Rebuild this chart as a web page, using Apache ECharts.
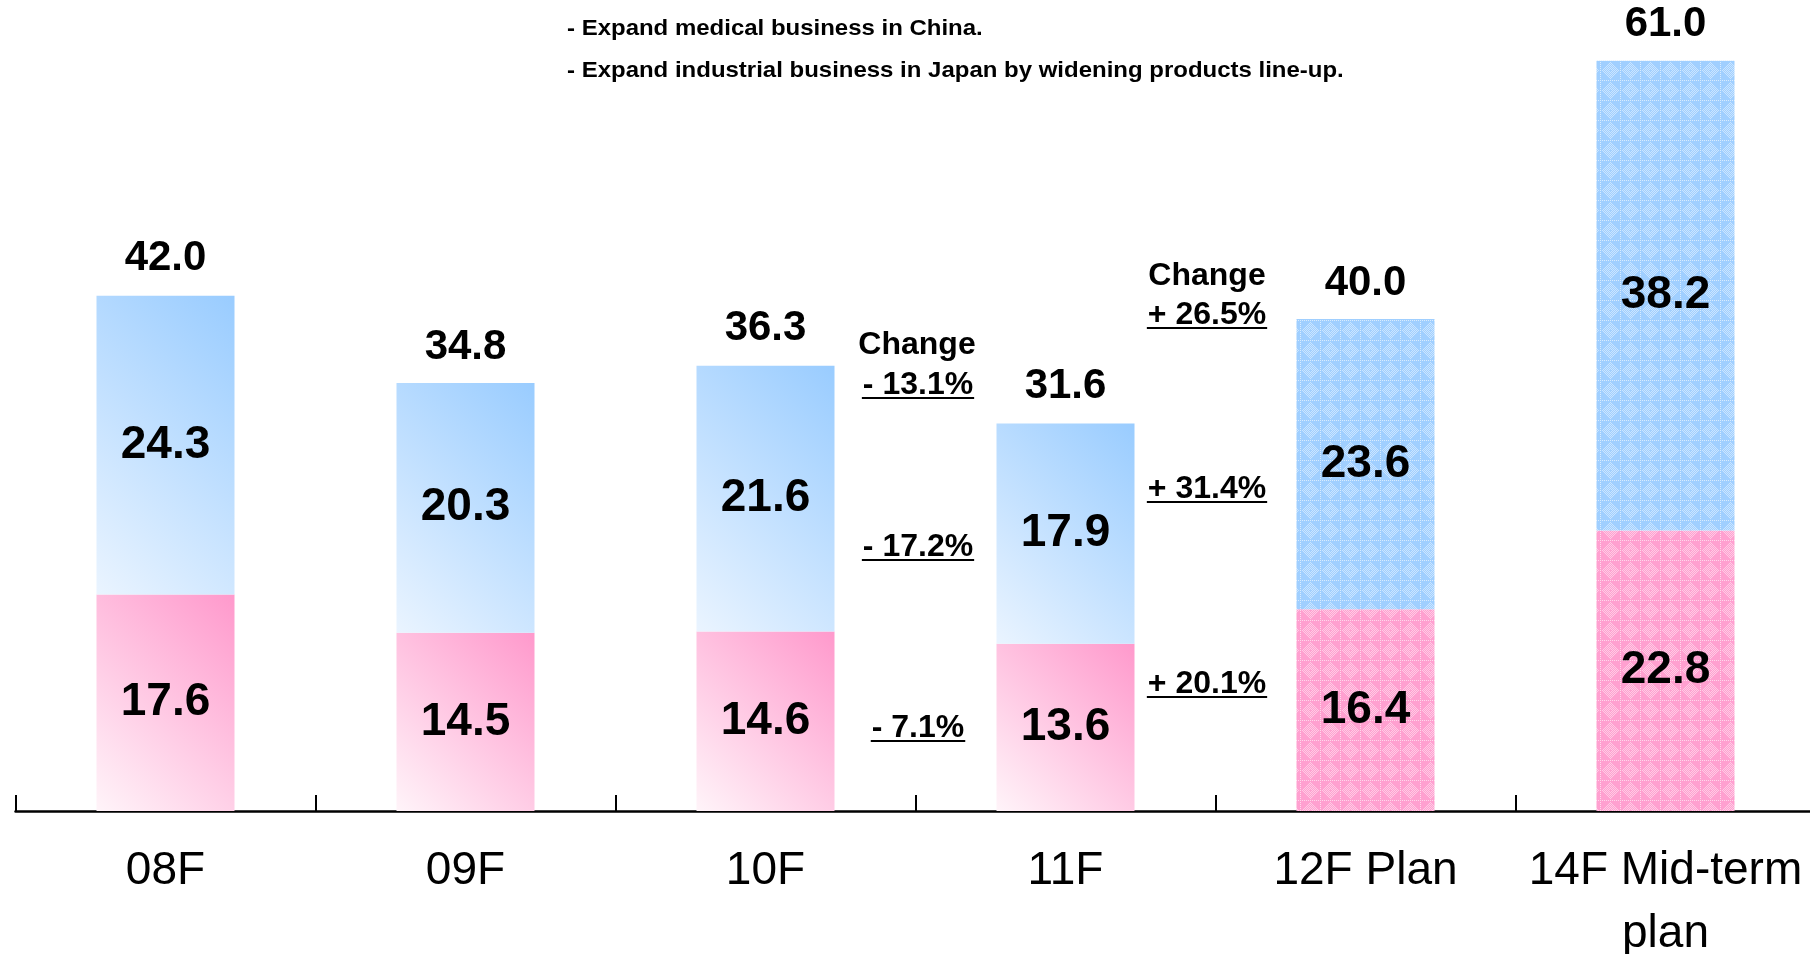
<!DOCTYPE html>
<html>
<head>
<meta charset="utf-8">
<script src="https://cdn.jsdelivr.net/npm/echarts@6/dist/echarts.min.js"></script>
<style>
html,body{margin:0;padding:0;background:#fff;}
#chart{width:1810px;height:954px;}
</style>
</head>
<body>
<div id="chart"></div>
<script>
// ---- data ----
const categories = ['08F', '09F', '10F', '11F', '12F Plan', '14F Mid-term\nplan'];
const lowerValues = [17.6, 14.5, 14.6, 13.6, 16.4, 22.8];   // pink segment
const upperValues = [24.3, 20.3, 21.6, 17.9, 23.6, 38.2];   // blue segment
const totals = [42.0, 34.8, 36.3, 31.6, 40.0, 61.0];
const planFlags = [false, false, false, false, true, true];
const notesLines = ['- Expand medical business in China.', '- Expand industrial business in Japan by widening products line-up.'];
const changeLeft = ['- 13.1%', '- 17.2%', '- 7.1%'];
const changeRight = ['+ 26.5%', '+ 31.4%', '+ 20.1%'];
const changeTitle = 'Change';

// ---- layout / style ----
const FONT = "'Liberation Sans', Arial, sans-serif";
const yMax = 65;
const gridTop = 11.5, gridBottom = 143;
const pxPerUnit = (954 - gridTop - gridBottom) / yMax;
const barW = 138;

function makePattern(base) {
  const c = document.createElement('canvas');
  c.width = 20; c.height = 20;
  const g = c.getContext('2d');
  g.fillStyle = base; g.fillRect(0, 0, 20, 20);
  for (let y = 0; y < 20; y++) {
    for (let x = 0; x < 20; x++) {
      const d = Math.abs(x - 10) + Math.abs(y - 10);
      let a = 0;
      if ((x + y) % 2 === 0 && d >= 2 && d <= 9) a = 0.45;
      if ((x === 0 || y === 0) && (x + y) % 2 === 0) a = 0.6;
      if (a > 0) { g.fillStyle = 'rgba(255,255,255,' + a + ')'; g.fillRect(x, y, 1, 1); }
    }
  }
  return { image: c, repeat: 'repeat' };
}
const bluePattern = makePattern('#a0cfff');
const pinkPattern = makePattern('#ffa0d0');

function grad(v, light, dark) {
  const h = v * pxPerUnit;
  const x2 = (barW + h) / (2 * barW);
  const y2 = 1 - (barW + h) / (2 * h);
  return new echarts.graphic.LinearGradient(0, 1, x2, y2, [
    { offset: 0, color: light }, { offset: 1, color: dark }
  ]);
}

const lowerData = lowerValues.map((v, i) => ({
  value: v,
  itemStyle: { color: planFlags[i] ? pinkPattern : grad(v, '#fff4f9', '#ff99cc') }
}));
const upperData = upperValues.map((v, i) => ({
  value: v,
  itemStyle: { color: planFlags[i] ? bluePattern : grad(v, '#eaf4ff', '#99ccff') }
}));

const inLabel = {
  show: true, position: 'inside', color: '#000', fontSize: 46, fontWeight: 'bold',
  fontFamily: FONT, formatter: p => p.value.toFixed(1)
};

// measure helper for underlines
const mctx = document.createElement('canvas').getContext('2d');
function textWidth(t, size) {
  mctx.font = 'bold ' + size + 'px ' + FONT;
  return mctx.measureText(t).width;
}

const graphics = [];
notesLines.forEach((t, i) => {
  graphics.push({
    type: 'text', x: 567, y: [29, 71][i], scaleX: 1.09,
    style: { text: t, fill: '#000', fontSize: 22, fontWeight: 'bold', fontFamily: FONT, align: 'left', verticalAlign: 'middle' }
  });
});
function addNote(t, x, y, underline) {
  const fs = 32;
  graphics.push({
    type: 'text', x: x, y: y,
    style: { text: t, fill: '#000', fontSize: fs, fontWeight: 'bold', fontFamily: FONT, align: 'center', verticalAlign: 'middle' }
  });
  if (underline) {
    const w = textWidth(t, fs) + 2;
    graphics.push({
      type: 'line',
      shape: { x1: x - w / 2, y1: y + 13, x2: x + w / 2, y2: y + 13 },
      style: { stroke: '#000', lineWidth: 2 }
    });
  }
}
addNote(changeTitle, 917, 345, false);
[385, 547, 728].forEach((y, i) => addNote(changeLeft[i], 918, y, true));
addNote(changeTitle, 1207, 276, false);
[315, 489, 684].forEach((y, i) => addNote(changeRight[i], 1207, y, true));

const chart = echarts.init(document.getElementById('chart'), null, { renderer: 'canvas' });
chart.setOption({
  animation: false,
  backgroundColor: '#fff',
  grid: { left: 15.5, right: -5.5, top: gridTop, bottom: gridBottom, containLabel: false, outerBoundsMode: 'none' },
  xAxis: {
    type: 'category',
    data: categories,
    axisLine: { show: true, lineStyle: { color: '#000', width: 2.5 } },
    axisTick: { show: true, inside: true, length: 16, lineStyle: { color: '#000', width: 2 } },
    axisLabel: { color: '#000', fontSize: 46, fontFamily: FONT, lineHeight: 63, margin: 29, interval: 0 }
  },
  yAxis: { type: 'value', min: 0, max: yMax, show: false, splitLine: { show: false } },
  series: [
    { name: 'lower', type: 'bar', stack: 's', barWidth: barW, data: lowerData, label: inLabel },
    { name: 'upper', type: 'bar', stack: 's', barWidth: barW, data: upperData, label: inLabel },
    {
      name: 'total', type: 'scatter', data: totals, symbolSize: 0, silent: true,
      itemStyle: { opacity: 1 },
      label: { show: true, position: 'top', distance: 15, color: '#000', opacity: 1, fontSize: 42, fontWeight: 'bold', fontFamily: FONT, formatter: p => p.value.toFixed(1) }
    }
  ],
  graphic: graphics
});
</script>
</body>
</html>
